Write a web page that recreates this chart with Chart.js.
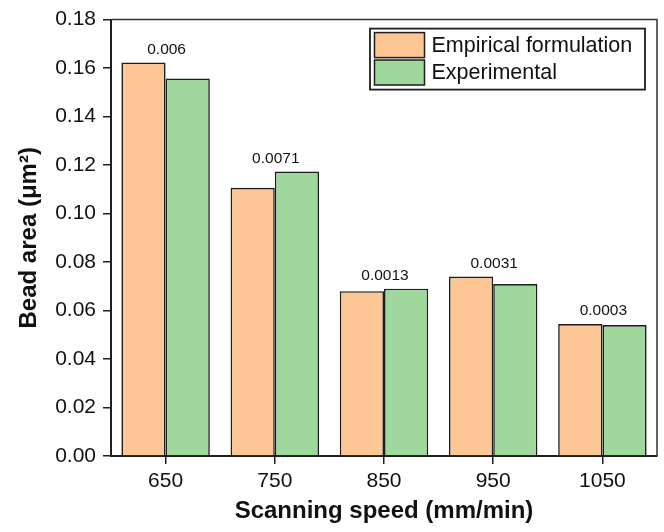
<!DOCTYPE html>
<html>
<head>
<meta charset="utf-8">
<script src="https://cdn.jsdelivr.net/npm/chart.js@4.4.0/dist/chart.umd.min.js"></script>
<style>
  html, body { margin: 0; padding: 0; background: #fff; }
  #wrap { width: 664px; height: 532px; }
</style>
</head>
<body>
<div id="wrap"><canvas id="c" width="664" height="532"></canvas></div>
<script>
const categories = ['650', '750', '850', '950', '1050'];
const empirical = [0.1623, 0.1106, 0.0680, 0.0740, 0.0544];
const experimental = [0.1557, 0.1173, 0.0690, 0.0709, 0.0540];
const differenceLabels = ['0.006', '0.0071', '0.0013', '0.0031', '0.0003'];
const yTicks = [0, 0.02, 0.04, 0.06, 0.08, 0.10, 0.12, 0.14, 0.16, 0.18];

const FONT = "'Liberation Sans', Arial, sans-serif";
const DARK = '#1e1e1e';

const diffLabelPlugin = {
  id: 'diffLabels',
  afterDatasetsDraw(chart) {
    const ctx = chart.ctx;
    const xs = chart.scales.x;
    const m0 = chart.getDatasetMeta(0), m1 = chart.getDatasetMeta(1);
    ctx.save();
    ctx.font = '15.5px ' + FONT;
    ctx.fillStyle = '#111';
    ctx.textAlign = 'center';
    ctx.textBaseline = 'alphabetic';
    differenceLabels.forEach((t, i) => {
      const top = Math.min(m0.data[i].y, m1.data[i].y);
      ctx.fillText(t, xs.getPixelForValue(i) + 1, top - 9);
    });
    ctx.restore();
  }
};

const framePlugin = {
  id: 'frame',
  afterDraw(chart) {
    const a = chart.chartArea;
    const ctx = chart.ctx;
    ctx.save();
    ctx.strokeStyle = '#333';
    ctx.lineWidth = 1.5;
    ctx.beginPath();
    ctx.moveTo(a.left, a.top);
    ctx.lineTo(a.right, a.top);
    ctx.lineTo(a.right, a.bottom);
    ctx.stroke();
    // legend
    const bx = a.right - 287, by = a.top + 9, bw = 275, bh = 61;
    ctx.fillStyle = '#fff';
    ctx.fillRect(bx, by, bw, bh);
    ctx.lineWidth = 1.8;
    ctx.strokeStyle = DARK;
    ctx.strokeRect(bx, by, bw, bh);
    ctx.font = '21.5px ' + FONT;
    ctx.textAlign = 'left';
    ctx.textBaseline = 'middle';
    chart.data.datasets.forEach((ds, i) => {
      const sy = by + 4 + i * 27.4;
      ctx.fillStyle = ds.backgroundColor;
      ctx.fillRect(bx + 4.5, sy, 50, 25);
      ctx.lineWidth = 1.5;
      ctx.strokeStyle = DARK;
      ctx.strokeRect(bx + 4.5, sy, 50, 25);
      ctx.fillStyle = '#111';
      ctx.fillText(ds.label, bx + 61.5, sy + 13);
    });
    ctx.restore();
  }
};

new Chart(document.getElementById('c'), {
  type: 'bar',
  data: {
    labels: categories,
    datasets: [
      { label: 'Empirical formulation', data: empirical, backgroundColor: '#FCC795', borderColor: DARK, borderWidth: 1.6 },
      { label: 'Experimental', data: experimental, backgroundColor: '#9FD79C', borderColor: DARK, borderWidth: 1.6 }
    ]
  },
  options: {
    responsive: false,
    animation: false,
    layout: { padding: { top: 16, right: 7, left: 0, bottom: 0 } },
    plugins: { legend: { display: false }, tooltip: { enabled: false } },
    datasets: { bar: { categoryPercentage: 0.81, barPercentage: 1.0 } },
    scales: {
      x: {
        afterFit(s) { s.height = 76; },
        grid: { display: true, drawOnChartArea: false, drawTicks: true, tickLength: 8, offset: false, color: DARK, lineWidth: 1.5 },
        border: { display: true, width: 2, color: DARK },
        ticks: { font: { family: FONT, size: 21 }, color: '#111', padding: 5 },
        title: { display: true, text: 'Scanning speed (mm/min)', font: { family: FONT, size: 24, weight: 'bold' }, color: '#111', padding: { top: 0, bottom: 6 } }
      },
      y: {
        min: 0, max: 0.18,
        afterFit(s) { s.width = 111; },
        afterBuildTicks(s) { s.ticks = yTicks.map(v => ({ value: v })); },
        grid: { display: true, drawOnChartArea: false, drawTicks: true, tickLength: 8, color: DARK, lineWidth: 1.5 },
        border: { display: true, width: 2, color: DARK },
        ticks: { font: { family: FONT, size: 21 }, color: '#111', padding: 7, callback: v => Number(v).toFixed(2) },
        title: { display: true, text: 'Bead area (μm²)', font: { family: FONT, size: 24, weight: 'bold' }, color: '#111', padding: { top: 15, bottom: 0 } }
      }
    }
  },
  plugins: [diffLabelPlugin, framePlugin]
});
</script>
</body>
</html>
